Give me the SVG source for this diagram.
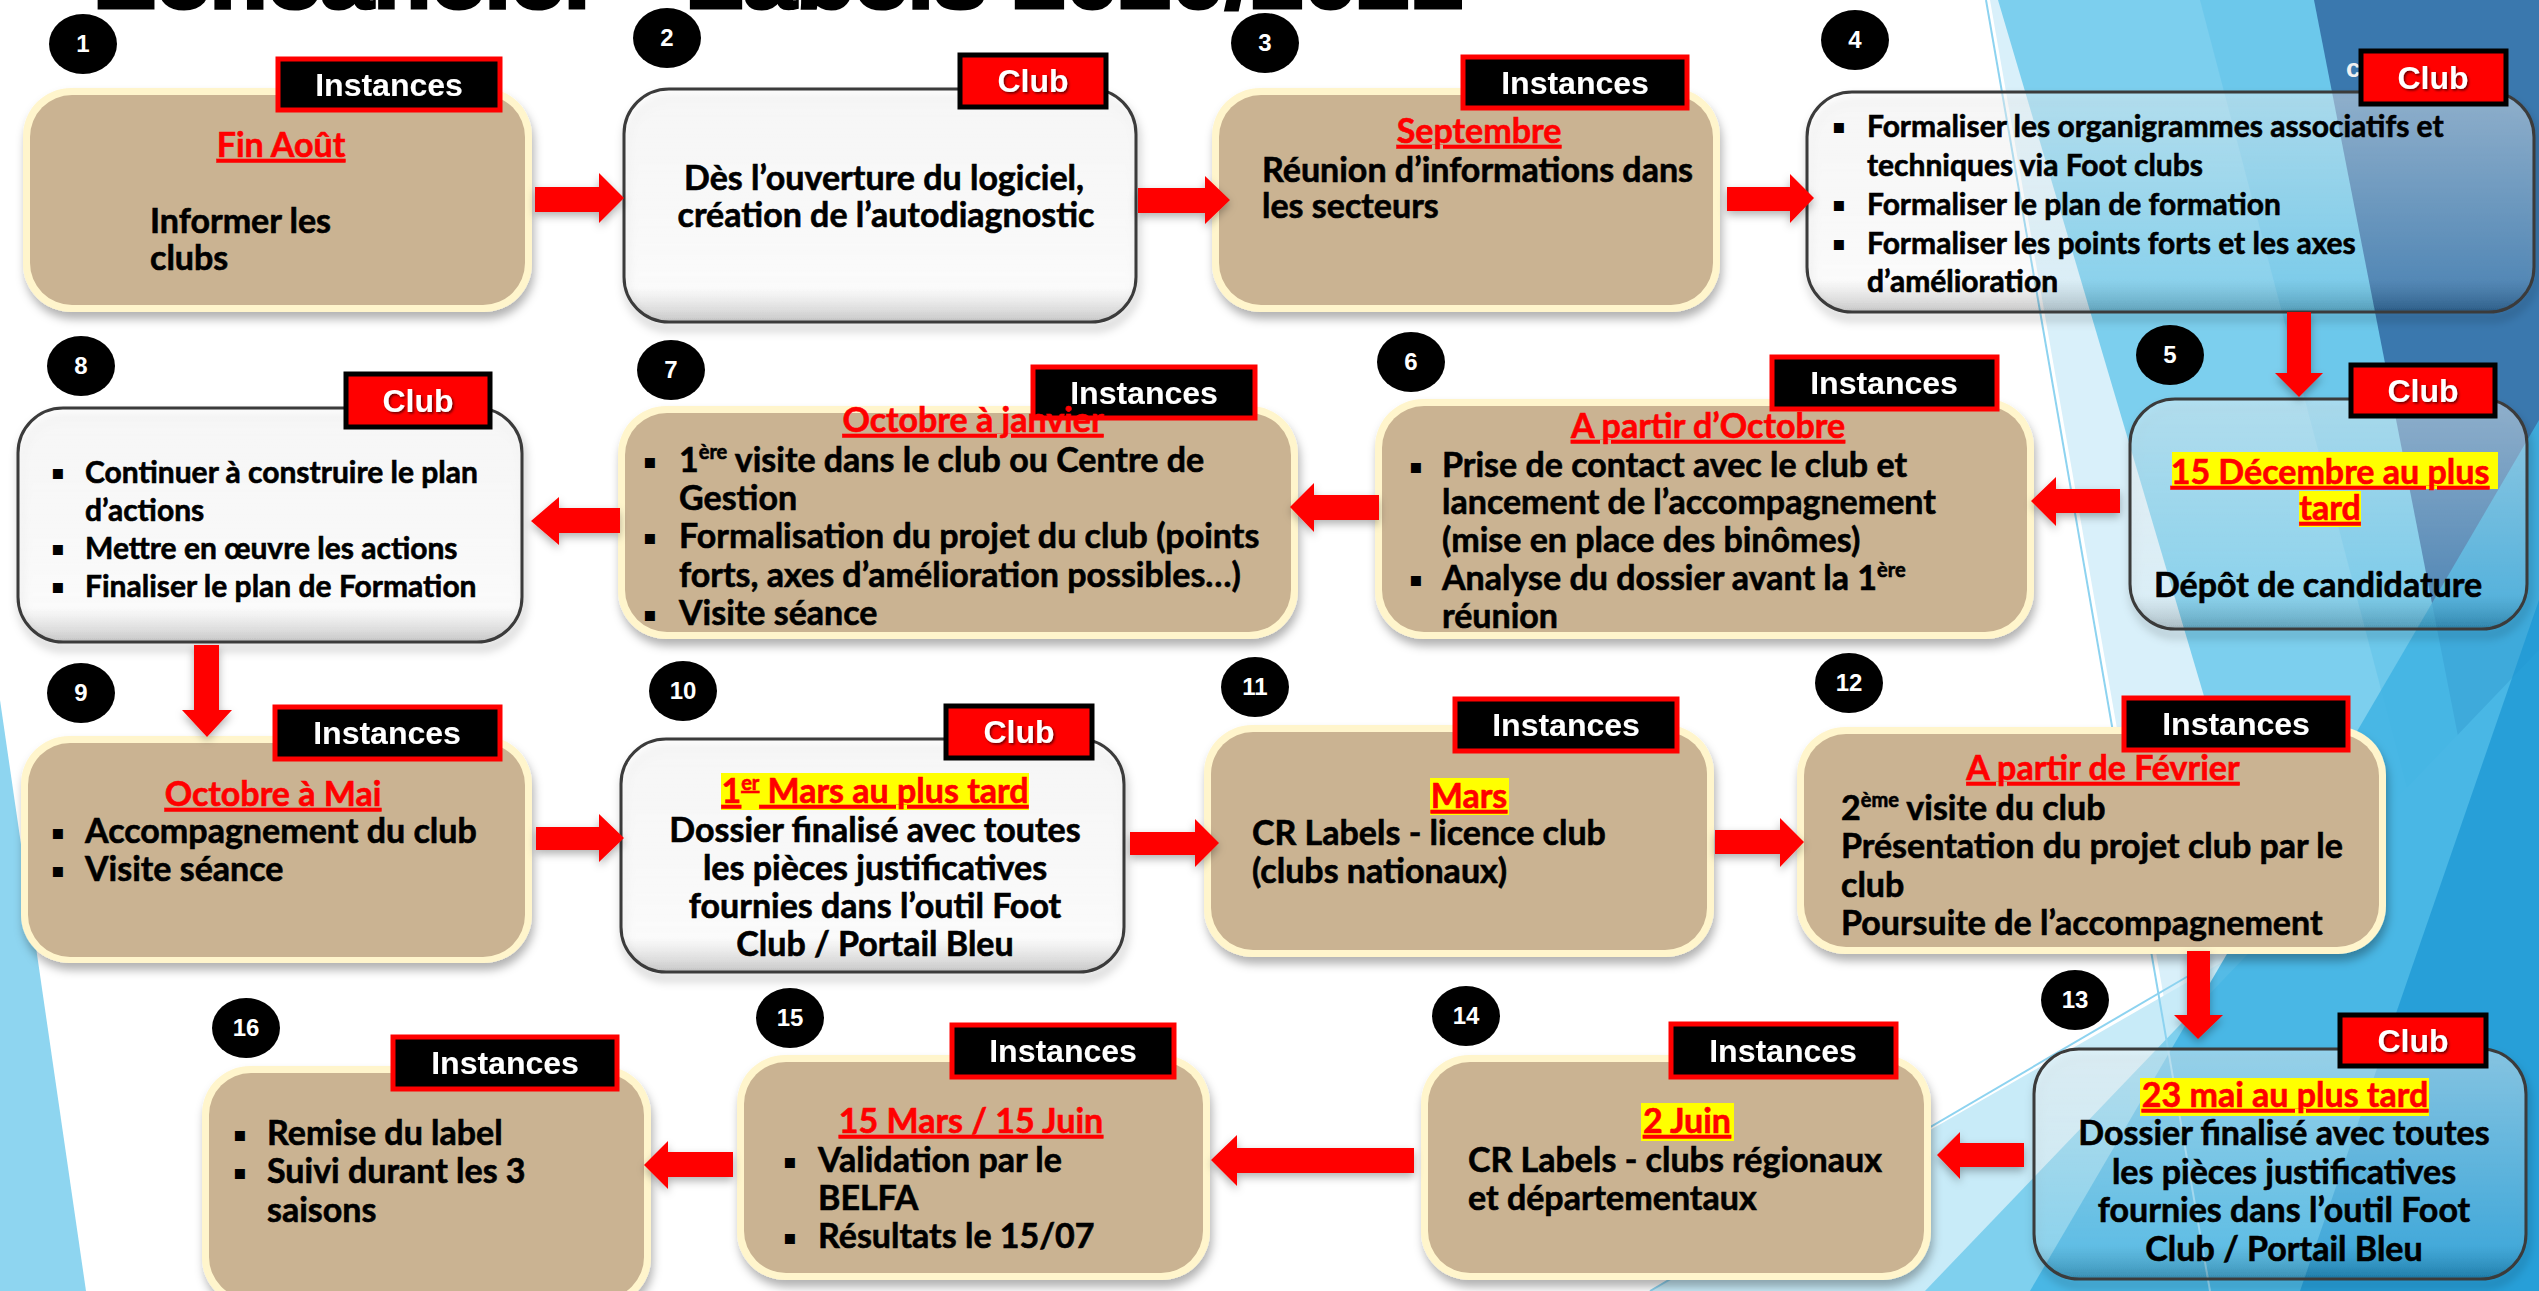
<svg xmlns="http://www.w3.org/2000/svg" width="2539" height="1291" viewBox="0 0 2539 1291">
<defs>
<style>
.t{font-family:Lato,"Liberation Sans",sans-serif;font-weight:700;font-size:34px;fill:#000;stroke:#000;stroke-width:0.6px}
.s{font-size:30px}
.r{fill:#ff0000;stroke:#ff0000;text-decoration:underline;text-decoration-thickness:3px}
.c{text-anchor:middle}
.sup{font-size:20px}
.lab{font-family:"Liberation Sans",Arial,sans-serif;font-weight:700;font-size:32px;fill:#fff;text-anchor:middle}
.num{font-family:"Liberation Sans",Arial,sans-serif;font-weight:700;font-size:24px;fill:#fff;text-anchor:middle}
.b{font-family:"DejaVu Sans",sans-serif;font-size:20px;fill:#000}
.brown{fill:#cab392}
.glow{fill:#fff5cc}
.club{fill:url(#glass);stroke:#3b3b3b;stroke-width:3}
.li{fill:#000;stroke:#ff0000;stroke-width:5}
.lc{fill:#ff0000;stroke:#000;stroke-width:5}
.arr{fill:#ff0000}
.hl{fill:#ffff00}
</style>
<linearGradient id="glass" x1="0" y1="0" x2="0" y2="1">
<stop offset="0" stop-color="#fff" stop-opacity="0.4"/>
<stop offset="0.85" stop-color="#fff" stop-opacity="0.12"/>
<stop offset="1" stop-color="#000" stop-opacity="0.18"/>
</linearGradient>
<filter id="sh" x="-10%" y="-10%" width="125%" height="135%">
<feDropShadow dx="2" dy="7" stdDeviation="5" flood-color="#000" flood-opacity="0.3"/>
</filter>
<filter id="ash" x="-20%" y="-40%" width="140%" height="180%">
<feDropShadow dx="0" dy="4" stdDeviation="4" flood-color="#000" flood-opacity="0.3"/>
</filter>
<filter id="tsh" x="-10%" y="-10%" width="120%" height="130%">
<feDropShadow dx="1.5" dy="1.5" stdDeviation="0.8" flood-color="#000" flood-opacity="0.6"/>
</filter>
</defs>

<g id="background">
<rect x="0" y="0" width="2539" height="1291" fill="#ffffff"/>
<polygon points="0,700 86,1291 0,1291" fill="#8ed5f0"/>
<polygon points="1990,0 2539,0 2539,1291 2215,1291" fill="#d9f0fa"/>
<polygon points="1998,0 2539,0 2539,1291 2380,1291" fill="#7ccfee"/>
<polygon points="2200,0 2539,0 2539,1291" fill="#63c3ea" opacity="0.6"/>
<polygon points="2314,0 2539,0 2539,1000 2490,900" fill="#3a78ae"/>
<polygon points="1650,1291 2539,780 2539,1291" fill="#c8ebf8"/>
<polygon points="1925,1291 2539,650 2539,1291" fill="#7fd0ee"/>
<polygon points="2030,1291 2539,420 2539,1291" fill="#3fb3e3" opacity="0.85"/>
<polygon points="2300,1291 2539,600 2539,1291" fill="#1f98d5" opacity="0.8"/>
<line x1="1986" y1="0" x2="2210" y2="1291" stroke="#8dd3f0" stroke-width="2"/>
<line x1="1650" y1="1291" x2="2190" y2="975" stroke="#8dd3f0" stroke-width="2"/>
</g>

<g id="title">
<text x="93" y="8" font-family="'Liberation Sans',Arial,sans-serif" font-weight="900" font-size="82" textLength="1370" lengthAdjust="spacingAndGlyphs" fill="#000" stroke="#000" stroke-width="3">Echéancier - Labels 2020/2021</text>
</g>

<g id="node-1">
<rect class="glow" x="23" y="88" width="509" height="224" rx="48" filter="url(#sh)"/>
<rect class="brown" x="30" y="95" width="495" height="210" rx="42"/>
<rect class="li" x="278" y="59" width="222" height="51"/>
<text class="lab" x="389" y="96" filter="url(#tsh)">Instances</text>
<ellipse cx="83" cy="44" rx="34" ry="30"/>
<text class="num" x="83" y="52">1</text>
<text class="t r c" x="281" y="157">Fin Août</text>
<text class="t" x="150" y="233">Informer les</text>
<text class="t" x="150" y="270">clubs</text>
</g>

<g id="node-2">
<rect class="club" x="624" y="89" width="512" height="233" rx="45" filter="url(#sh)"/>
<rect class="lc" x="960" y="55" width="146" height="52"/>
<text class="lab" x="1033" y="92" filter="url(#tsh)">Club</text>
<ellipse cx="667" cy="38" rx="34" ry="30"/>
<text class="num" x="667" y="46">2</text>
<text class="t c" x="884" y="190">Dès l’ouverture du logiciel,</text>
<text class="t c" x="886" y="227">création de l’autodiagnostic</text>
</g>

<g id="node-3">
<rect class="glow" x="1212" y="88" width="508" height="224" rx="48" filter="url(#sh)"/>
<rect class="brown" x="1219" y="95" width="494" height="210" rx="42"/>
<rect class="li" x="1463" y="57" width="224" height="51"/>
<text class="lab" x="1575" y="94" filter="url(#tsh)">Instances</text>
<ellipse cx="1265" cy="43" rx="34" ry="30"/>
<text class="num" x="1265" y="51">3</text>
<text class="t r c" x="1479" y="143">Septembre</text>
<text class="t" x="1262" y="182">Réunion d’informations dans</text>
<text class="t" x="1262" y="218">les secteurs</text>
</g>

<g id="node-4">
<rect class="club" x="1807" y="92" width="727" height="220" rx="45" filter="url(#sh)"/>
<text x="2346" y="77" font-family="'Liberation Sans',Arial,sans-serif" font-weight="700" font-size="26" fill="#f0f0f0">c</text>
<rect class="lc" x="2361" y="51" width="145" height="53"/>
<text class="lab" x="2433" y="89" filter="url(#tsh)">Club</text>
<ellipse cx="1855" cy="40" rx="34" ry="30"/>
<text class="num" x="1855" y="48">4</text>
<text class="b" x="1832" y="133">▪</text>
<text class="t s" x="1867" y="137">Formaliser les organigrammes associatifs et</text>
<text class="t s" x="1867" y="176">techniques via Foot clubs</text>
<text class="b" x="1832" y="211">▪</text>
<text class="t s" x="1867" y="215">Formaliser le plan de formation</text>
<text class="b" x="1832" y="250">▪</text>
<text class="t s" x="1867" y="254">Formaliser les points forts et les axes</text>
<text class="t s" x="1867" y="292">d’amélioration</text>
</g>

<g id="node-5">
<rect class="club" x="2130" y="399" width="397" height="230" rx="45" filter="url(#sh)"/>
<rect class="lc" x="2351" y="365" width="144" height="51"/>
<text class="lab" x="2423" y="402" filter="url(#tsh)">Club</text>
<ellipse cx="2170" cy="355" rx="34" ry="30"/>
<text class="num" x="2170" y="363">5</text>
<rect class="hl" x="2172" y="452" width="326" height="37"/>
<rect class="hl" x="2299" y="491" width="62" height="36"/>
<text class="t r c" x="2330" y="484">15 Décembre au plus</text>
<text class="t r c" x="2330" y="520">tard</text>
<text class="t c" x="2318" y="597">Dépôt de candidature</text>
</g>

<g id="node-6">
<rect class="glow" x="1375" y="399" width="659" height="240" rx="48" filter="url(#sh)"/>
<rect class="brown" x="1382" y="406" width="645" height="226" rx="42"/>
<rect class="li" x="1772" y="357" width="225" height="52"/>
<text class="lab" x="1884" y="394" filter="url(#tsh)">Instances</text>
<ellipse cx="1411" cy="362" rx="34" ry="30"/>
<text class="num" x="1411" y="370">6</text>
<text class="t r c" x="1708" y="438">A partir d’Octobre</text>
<text class="b" x="1409" y="473">▪</text>
<text class="t" x="1442" y="477">Prise de contact avec le club et</text>
<text class="t" x="1442" y="514">lancement de l’accompagnement</text>
<text class="t" x="1442" y="552">(mise en place des binômes)</text>
<text class="b" x="1409" y="586">▪</text>
<text class="t" x="1442" y="590">Analyse du dossier avant la 1<tspan class="sup" dy="-13">ère</tspan></text>
<text class="t" x="1442" y="628">réunion</text>
</g>

<g id="node-7">
<rect class="glow" x="618" y="406" width="680" height="233" rx="48" filter="url(#sh)"/>
<rect class="brown" x="625" y="413" width="666" height="219" rx="42"/>
<rect class="li" x="1033" y="367" width="222" height="51"/>
<text class="lab" x="1144" y="404" filter="url(#tsh)">Instances</text>
<ellipse cx="671" cy="370" rx="34" ry="30"/>
<text class="num" x="671" y="378">7</text>
<text class="t r c" x="973" y="432">Octobre à janvier</text>
<text class="b" x="643" y="468">▪</text>
<text class="t" x="679" y="472">1<tspan class="sup" dy="-13">ère</tspan><tspan dy="13"> visite dans le club ou Centre de</tspan></text>
<text class="t" x="679" y="510">Gestion</text>
<text class="b" x="643" y="544">▪</text>
<text class="t" x="679" y="548">Formalisation du projet du club (points</text>
<text class="t" x="679" y="587">forts, axes d’amélioration possibles…)</text>
<text class="b" x="643" y="621">▪</text>
<text class="t" x="679" y="625">Visite séance</text>
</g>

<g id="node-8">
<rect class="club" x="18" y="408" width="504" height="234" rx="45" filter="url(#sh)"/>
<rect class="lc" x="346" y="374" width="144" height="53"/>
<text class="lab" x="418" y="412" filter="url(#tsh)">Club</text>
<ellipse cx="81" cy="366" rx="34" ry="30"/>
<text class="num" x="81" y="374">8</text>
<text class="b" x="51" y="479">▪</text>
<text class="t s" x="85" y="483">Continuer à construire le plan</text>
<text class="t s" x="85" y="521">d’actions</text>
<text class="b" x="51" y="555">▪</text>
<text class="t s" x="85" y="559">Mettre en œuvre les actions</text>
<text class="b" x="51" y="593">▪</text>
<text class="t s" x="85" y="597">Finaliser le plan de Formation</text>
</g>

<g id="node-9">
<rect class="glow" x="21" y="736" width="511" height="227" rx="48" filter="url(#sh)"/>
<rect class="brown" x="28" y="743" width="497" height="214" rx="42"/>
<rect class="li" x="275" y="707" width="225" height="52"/>
<text class="lab" x="387" y="744" filter="url(#tsh)">Instances</text>
<ellipse cx="81" cy="693" rx="34" ry="30"/>
<text class="num" x="81" y="701">9</text>
<text class="t r c" x="273" y="806">Octobre à Mai</text>
<text class="b" x="51" y="839">▪</text>
<text class="t" x="85" y="843">Accompagnement du club</text>
<text class="b" x="51" y="877">▪</text>
<text class="t" x="85" y="881">Visite séance</text>
</g>

<g id="node-10">
<rect class="club" x="621" y="739" width="503" height="233" rx="45" filter="url(#sh)"/>
<rect class="lc" x="946" y="706" width="146" height="52"/>
<text class="lab" x="1019" y="743" filter="url(#tsh)">Club</text>
<ellipse cx="683" cy="691" rx="34" ry="30"/>
<text class="num" x="683" y="699">10</text>
<rect class="hl" x="721" y="773" width="308" height="37"/>
<text class="t r c" x="875" y="803">1<tspan class="sup" dy="-13">er</tspan><tspan dy="13"> Mars au plus tard</tspan></text>
<text class="t c" x="875" y="842">Dossier finalisé avec toutes</text>
<text class="t c" x="875" y="880">les pièces justificatives</text>
<text class="t c" x="875" y="918">fournies dans l’outil Foot</text>
<text class="t c" x="875" y="956">Club / Portail Bleu</text>
</g>

<g id="node-11">
<rect class="glow" x="1204" y="725" width="510" height="232" rx="48" filter="url(#sh)"/>
<rect class="brown" x="1211" y="732" width="496" height="218" rx="42"/>
<rect class="li" x="1455" y="699" width="222" height="52"/>
<text class="lab" x="1566" y="736" filter="url(#tsh)">Instances</text>
<ellipse cx="1255" cy="687" rx="34" ry="30"/>
<text class="num" x="1255" y="695">11</text>
<rect class="hl" x="1430" y="778" width="79" height="37"/>
<text class="t r c" x="1469" y="808">Mars</text>
<text class="t" x="1252" y="845">CR Labels - licence club</text>
<text class="t" x="1252" y="883">(clubs nationaux)</text>
</g>

<g id="node-12">
<rect class="glow" x="1797" y="727" width="589" height="227" rx="48" filter="url(#sh)"/>
<rect class="brown" x="1804" y="734" width="575" height="213" rx="42"/>
<rect class="li" x="2124" y="698" width="224" height="52"/>
<text class="lab" x="2236" y="735" filter="url(#tsh)">Instances</text>
<ellipse cx="1849" cy="683" rx="34" ry="30"/>
<text class="num" x="1849" y="691">12</text>
<text class="t r c" x="2103" y="780">A partir de Février</text>
<text class="t" x="1841" y="820">2<tspan class="sup" dy="-13">ème</tspan><tspan dy="13"> visite du club</tspan></text>
<text class="t" x="1841" y="858">Présentation du projet club par le</text>
<text class="t" x="1841" y="897">club</text>
<text class="t" x="1841" y="935">Poursuite de l’accompagnement</text>
</g>

<g id="node-13">
<rect class="club" x="2034" y="1049" width="492" height="230" rx="45" filter="url(#sh)"/>
<rect class="lc" x="2340" y="1015" width="146" height="51"/>
<text class="lab" x="2413" y="1052" filter="url(#tsh)">Club</text>
<ellipse cx="2075" cy="1000" rx="34" ry="30"/>
<text class="num" x="2075" y="1008">13</text>
<rect class="hl" x="2140" y="1078" width="289" height="38"/>
<text class="t r c" x="2285" y="1107">23 mai au plus tard</text>
<text class="t c" x="2284" y="1145">Dossier finalisé avec toutes</text>
<text class="t c" x="2284" y="1184">les pièces justificatives</text>
<text class="t c" x="2284" y="1222">fournies dans l’outil Foot</text>
<text class="t c" x="2284" y="1261">Club / Portail Bleu</text>
</g>

<g id="node-14">
<rect class="glow" x="1421" y="1055" width="510" height="225" rx="48" filter="url(#sh)"/>
<rect class="brown" x="1428" y="1062" width="496" height="211" rx="42"/>
<rect class="li" x="1671" y="1024" width="225" height="53"/>
<text class="lab" x="1783" y="1062" filter="url(#tsh)">Instances</text>
<ellipse cx="1466" cy="1016" rx="34" ry="30"/>
<text class="num" x="1466" y="1024">14</text>
<rect class="hl" x="1641" y="1103" width="93" height="38"/>
<text class="t r c" x="1687" y="1133">2 Juin</text>
<text class="t" x="1468" y="1172">CR Labels - clubs régionaux</text>
<text class="t" x="1468" y="1210">et départementaux</text>
</g>

<g id="node-15">
<rect class="glow" x="737" y="1055" width="473" height="225" rx="48" filter="url(#sh)"/>
<rect class="brown" x="744" y="1062" width="459" height="211" rx="42"/>
<rect class="li" x="952" y="1025" width="222" height="52"/>
<text class="lab" x="1063" y="1062" filter="url(#tsh)">Instances</text>
<ellipse cx="790" cy="1018" rx="34" ry="30"/>
<text class="num" x="790" y="1026">15</text>
<text class="t r c" x="971" y="1133">15 Mars / 15 Juin</text>
<text class="b" x="783" y="1168">▪</text>
<text class="t" x="818" y="1172">Validation par le</text>
<text class="t" x="818" y="1210">BELFA</text>
<text class="b" x="783" y="1244">▪</text>
<text class="t" x="818" y="1248">Résultats le 15/07</text>
</g>

<g id="node-16">
<rect class="glow" x="202" y="1066" width="449" height="240" rx="48" filter="url(#sh)"/>
<rect class="brown" x="209" y="1073" width="435" height="226" rx="42"/>
<rect class="li" x="393" y="1037" width="224" height="52"/>
<text class="lab" x="505" y="1074" filter="url(#tsh)">Instances</text>
<ellipse cx="246" cy="1028" rx="34" ry="30"/>
<text class="num" x="246" y="1036">16</text>
<text class="b" x="233" y="1141">▪</text>
<text class="t" x="267" y="1145">Remise du label</text>
<text class="b" x="233" y="1179">▪</text>
<text class="t" x="267" y="1183">Suivi durant les 3</text>
<text class="t" x="267" y="1222">saisons</text>
</g>

<g id="connectors" filter="url(#ash)">
<polygon class="arr" points="535,187 599,187 599,173 624,198 599,223 599,212 535,212"/>
<polygon class="arr" points="1138,188 1205,188 1205,176 1230,200 1205,224 1205,213 1138,213"/>
<polygon class="arr" points="1727,187 1790,187 1790,174 1814,198 1790,223 1790,211 1727,211"/>
<polygon class="arr" points="2287,312 2311,312 2311,373 2323,373 2299,397 2275,373 2287,373"/>
<polygon class="arr" points="2120,489 2056,489 2056,477 2031,501 2056,526 2056,513 2120,513"/>
<polygon class="arr" points="1379,495 1314,495 1314,483 1290,507 1314,532 1314,520 1379,520"/>
<polygon class="arr" points="620,508 559,508 559,497 531,521 559,545 559,533 620,533"/>
<polygon class="arr" points="194,645 219,645 219,710 232,710 207,737 182,710 194,710"/>
<polygon class="arr" points="536,827 599,827 599,814 624,838 599,862 599,850 536,850"/>
<polygon class="arr" points="1130,832 1195,832 1195,819 1219,843 1195,867 1195,855 1130,855"/>
<polygon class="arr" points="1715,830 1780,830 1780,818 1804,842 1780,867 1780,854 1715,854"/>
<polygon class="arr" points="2187,951 2210,951 2210,1015 2223,1015 2198,1039 2174,1015 2187,1015"/>
<polygon class="arr" points="2024,1143 1960,1143 1960,1132 1937,1155 1960,1179 1960,1167 2024,1167"/>
<polygon class="arr" points="1414,1148 1237,1148 1237,1135 1211,1160 1237,1186 1237,1173 1414,1173"/>
<polygon class="arr" points="733,1152 668,1152 668,1141 644,1165 668,1189 668,1177 733,1177"/>
</g>
</svg>
